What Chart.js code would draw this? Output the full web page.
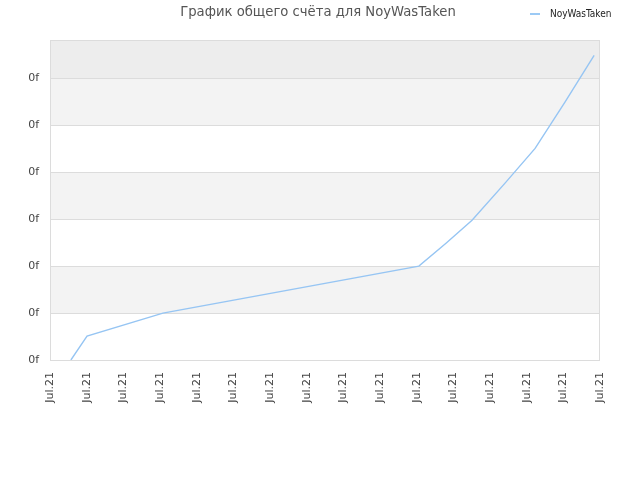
<!DOCTYPE html>
<html>
<head>
<meta charset="utf-8">
<script src="https://cdn.jsdelivr.net/npm/chart.js@4"></script>
<style>
  body { margin: 0; background: #fff; }
  #wrap { position: relative; width: 640px; height: 480px; }
  #title { position: absolute; left: 0; width: 636px; top: 4px; text-align: center;
    font: 13.2px "DejaVu Sans", sans-serif; color: #555; }
  #legend { position: absolute; left: 530px; top: 8px; font: 10px "DejaVu Sans Condensed", "DejaVu Sans", sans-serif; color: #222; }
  #legend span { display: inline-block; width: 10px; height: 0; border-top: 2px solid #9ccaf5; vertical-align: middle; margin-right: 10px; }
</style>
</head>
<body>
<div id="wrap">
  <canvas id="chart" width="640" height="480"></canvas>
  <div id="title">График общего счёта для NoyWasTaken</div>
  <div id="legend"><span></span>NoyWasTaken</div>
</div>
<script>
// Данные
var seriesName = 'NoyWasTaken';
var xLabel = 'Jul.21';
var yLabel = '0f';
var xPos = [0.57, 1.01, 3.08, 10.06, 10.8, 11.51, 12.41, 13.23, 14.04, 14.84];
var scores = [0, 0.51, 1.0, 2.0, 2.49, 2.98, 3.77, 4.51, 5.49, 6.49];

var points = xPos.map(function(x, i) { return { x: x, y: scores[i] }; });

// Полосы фона и рамка области графика
var bandsPlugin = {
    id: 'bands',
    beforeDraw: function(chart) {
        var ctx = chart.ctx;
        var area = chart.chartArea;
        var y = chart.scales.y;
        ctx.save();
        for (var v = 0; v < 7; v++) {
            var top = y.getPixelForValue(Math.min(v + 1, y.max));
            var bottom = y.getPixelForValue(v);
            var color = null;
            if (v === 6) color = '#ededed';
            else if (v % 2 === 1) color = '#f3f3f3';
            if (color) {
                ctx.fillStyle = color;
                ctx.fillRect(area.left, top, area.right - area.left, bottom - top);
            }
        }
        ctx.restore();
    },
    afterDraw: function(chart) {
        var ctx = chart.ctx;
        var area = chart.chartArea;
        ctx.save();
        ctx.strokeStyle = '#dcdcdc';
        ctx.lineWidth = 1;
        ctx.strokeRect(area.left + 0.5, area.top + 0.5, area.right - area.left - 1, area.bottom - area.top);
        ctx.restore();
    }
};

var ctx = document.getElementById('chart').getContext('2d');
var chart = new Chart(ctx, {
    type: 'line',
    data: {
        datasets: [{
            label: seriesName,
            data: points,
            borderColor: '#96c5f3',
            borderWidth: 1.4,
            pointRadius: 0,
            tension: 0,
            fill: false
        }]
    },
    options: {
        responsive: false,
        animation: false,
        layout: { padding: { left: 0, right: 40, top: 40, bottom: 0 } },
        plugins: {
            legend: { display: false },
            title: { display: false },
            tooltip: { enabled: false }
        },
        scales: {
            x: {
                type: 'linear',
                min: 0,
                max: 15,
                afterFit: function(scale) { scale.height = 120; },
                grid: { display: false, drawTicks: false },
                border: { display: false },
                ticks: {
                    stepSize: 1,
                    autoSkip: false,
                    minRotation: 90,
                    maxRotation: 90,
                    padding: 12,
                    color: '#444',
                    font: { family: 'DejaVu Sans', size: 11 },
                    callback: function() { return xLabel; }
                }
            },
            y: {
                min: 0,
                max: 6.82,
                afterFit: function(scale) { scale.width = 50; },
                grid: { color: '#dcdcdc', drawTicks: false },
                border: { display: false },
                ticks: {
                    stepSize: 1,
                    padding: 11,
                    color: '#444',
                    font: { family: 'DejaVu Sans', size: 11 },
                    callback: function(value) {
                        return Number.isInteger(value) ? yLabel : '';
                    }
                }
            }
        }
    },
    plugins: [bandsPlugin]
});
</script>
</body>
</html>
